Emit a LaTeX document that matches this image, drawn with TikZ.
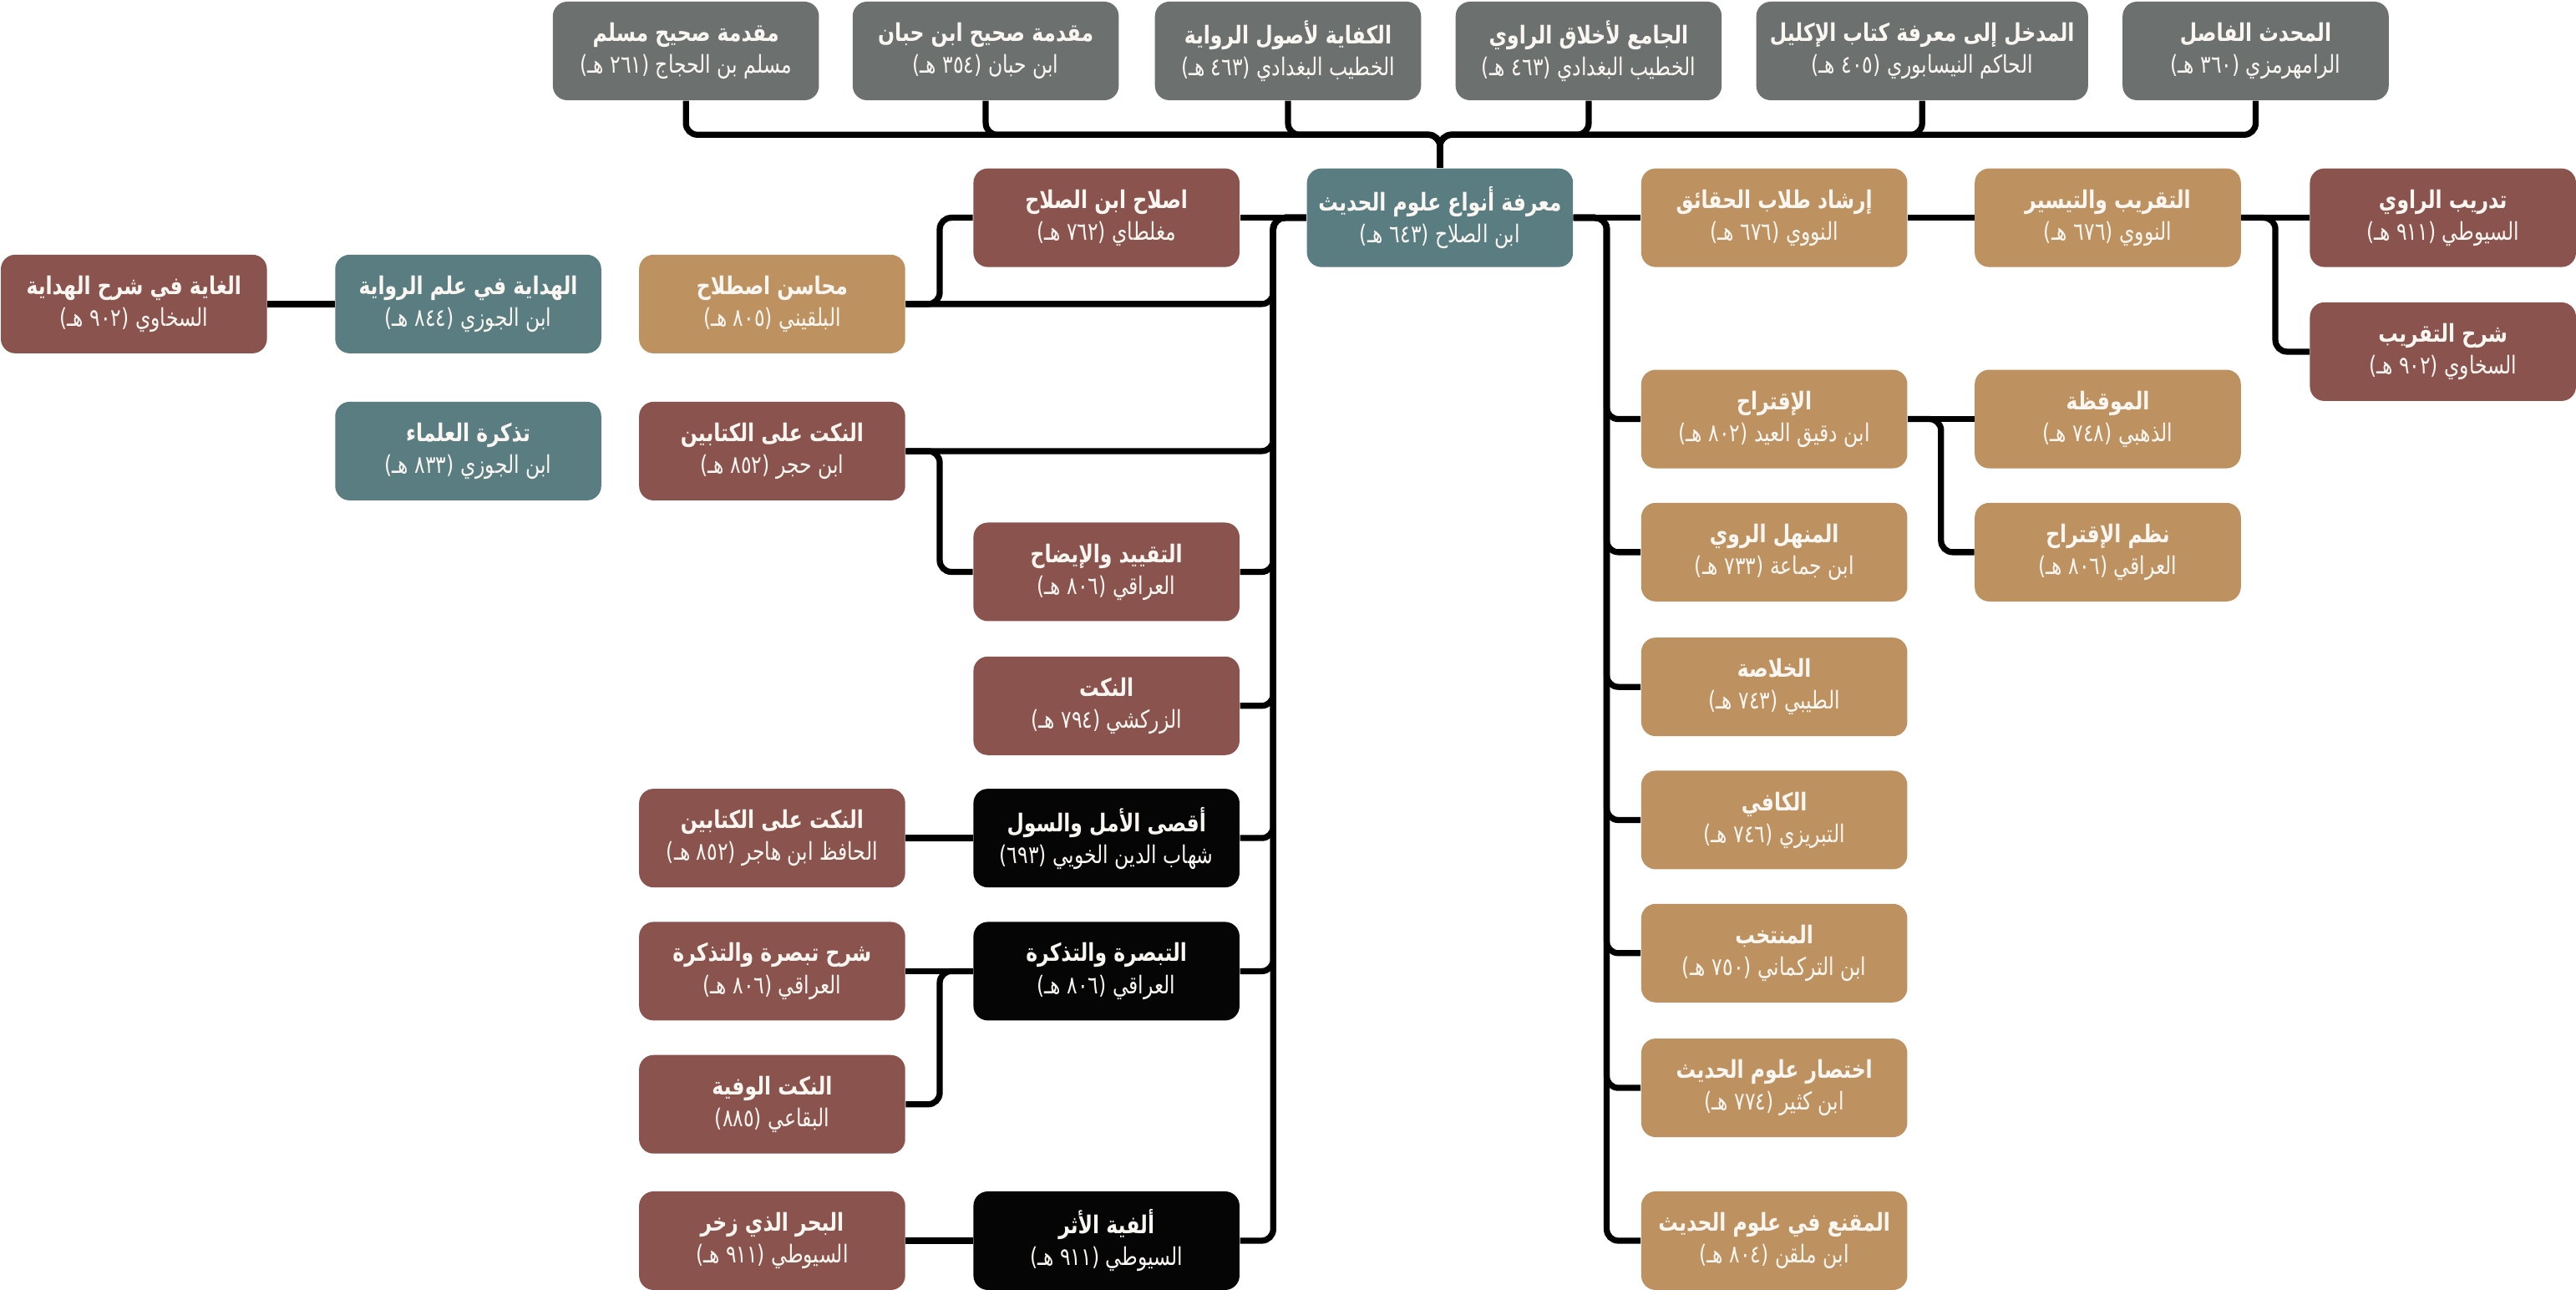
\documentclass[tikz,border=0pt]{standalone}
\usepackage{fontspec}
\newfontfamily\arfont[Script=Arabic,FakeStretch=0.8]{DejaVu Sans}
\TeXXeTstate=1
\usepackage{xcolor}
\definecolor{topgrey}{HTML}{6C7170}
\definecolor{teal}{HTML}{5A7D82}
\definecolor{brick}{HTML}{8B534D}
\definecolor{tan}{HTML}{BD9160}
\definecolor{ink}{HTML}{050505}
\definecolor{paper}{HTML}{FAF7F2}
\usepackage{tikz}
\newcommand{\ttl}{\bfseries}

\begin{document}
\begin{tikzpicture}[x=0.02cm,y=-0.02cm,
    bookbox/.style={rectangle,rounded corners=5pt,minimum width=3.24cm,minimum height=1.2cm,
      inner sep=1pt,align=center,text=paper,font=\arfont\fontsize{8.5}{11}\selectfont},
    link/.style={line width=2.1pt,rounded corners=4pt}]
  \useasboundingbox (0,0) rectangle (1568,785);

  % top row
  \node[bookbox,fill=topgrey](muslim) at (417.5,31) {{\ttl\beginR مقدمة صحيح مسلم\endR}\\\beginR مسلم بن الحجاج (٢٦١ هـ)\endR};
  \node[bookbox,fill=topgrey](hibban) at (600,31) {{\ttl\beginR مقدمة صحيح ابن حبان\endR}\\\beginR ابن حبان (٣٥٤ هـ)\endR};
  \node[bookbox,fill=topgrey](kifaya) at (784,31) {{\ttl\beginR الكفاية لأصول الرواية\endR}\\\beginR الخطيب البغدادي (٤٦٣ هـ)\endR};
  \node[bookbox,fill=topgrey](jami) at (967,31) {{\ttl\beginR الجامع لأخلاق الراوي\endR}\\\beginR الخطيب البغدادي (٤٦٣ هـ)\endR};
  \node[bookbox,fill=topgrey,minimum width=4.04cm](madkhal) at (1170,31) {{\ttl\beginR المدخل إلى معرفة كتاب الإكليل\endR}\\\beginR الحاكم النيسابوري (٤٠٥ هـ)\endR};
  \node[bookbox,fill=topgrey](muhaddith) at (1373,31) {{\ttl\beginR المحدث الفاصل\endR}\\\beginR الرامهرمزي (٣٦٠ هـ)\endR};

  % second row
  \node[bookbox,fill=brick](islah) at (673.5,132.5) {{\ttl\beginR اصلاح ابن الصلاح\endR}\\\beginR مغلطاي (٧٦٢ هـ)\endR};
  \node[bookbox,fill=teal](root) at (876.5,132.5) {{\ttl\beginR معرفة أنواع علوم الحديث\endR}\\\beginR ابن الصلاح (٦٤٣ هـ)\endR};
  \node[bookbox,fill=tan](irshad) at (1080,132.5) {{\ttl\beginR إرشاد طلاب الحقائق\endR}\\\beginR النووي (٦٧٦ هـ)\endR};
  \node[bookbox,fill=tan](taqrib) at (1283,132.5) {{\ttl\beginR التقريب والتيسير\endR}\\\beginR النووي (٦٧٦ هـ)\endR};
  \node[bookbox,fill=brick](tadrib) at (1487,132.5) {{\ttl\beginR تدريب الراوي\endR}\\\beginR السيوطي (٩١١ هـ)\endR};

  % left side
  \node[bookbox,fill=brick](ghaya) at (81.5,185) {{\ttl\beginR الغاية في شرح الهداية\endR}\\\beginR السخاوي (٩٠٢ هـ)\endR};
  \node[bookbox,fill=teal](hidaya) at (285,185) {{\ttl\beginR الهداية في علم الرواية\endR}\\\beginR ابن الجوزي (٨٤٤ هـ)\endR};
  \node[bookbox,fill=tan](mahasin) at (470,185) {{\ttl\beginR محاسن اصطلاح\endR}\\\beginR البلقيني (٨٠٥ هـ)\endR};
  \node[bookbox,fill=teal](tadhkira) at (285,274.5) {{\ttl\beginR تذكرة العلماء\endR}\\\beginR ابن الجوزي (٨٣٣ هـ)\endR};
  \node[bookbox,fill=brick](nukatA) at (470,274.5) {{\ttl\beginR النكت على الكتابين\endR}\\\beginR ابن حجر (٨٥٢ هـ)\endR};
  \node[bookbox,fill=brick](taqyid) at (673.5,348) {{\ttl\beginR التقييد والإيضاح\endR}\\\beginR العراقي (٨٠٦ هـ)\endR};
  \node[bookbox,fill=brick](nukatZ) at (673.5,429.5) {{\ttl\beginR النكت\endR}\\\beginR الزركشي (٧٩٤ هـ)\endR};
  \node[bookbox,fill=ink](aqsa) at (673.5,510) {{\ttl\beginR أقصى الأمل والسول\endR}\\\beginR شهاب الدين الخويي (٦٩٣)\endR};
  \node[bookbox,fill=brick](nukatB) at (470,510) {{\ttl\beginR النكت على الكتابين\endR}\\\beginR الحافظ ابن هاجر (٨٥٢ هـ)\endR};
  \node[bookbox,fill=ink](tabsira) at (673.5,591) {{\ttl\beginR التبصرة والتذكرة\endR}\\\beginR العراقي (٨٠٦ هـ)\endR};
  \node[bookbox,fill=brick](sharhT) at (470,591) {{\ttl\beginR شرح تبصرة والتذكرة\endR}\\\beginR العراقي (٨٠٦ هـ)\endR};
  \node[bookbox,fill=brick](wafiya) at (470,672) {{\ttl\beginR النكت الوفية\endR}\\\beginR البقاعي (٨٨٥)\endR};
  \node[bookbox,fill=ink](alfiya) at (673.5,755) {{\ttl\beginR ألفية الأثر\endR}\\\beginR السيوطي (٩١١ هـ)\endR};
  \node[bookbox,fill=brick](bahr) at (470,755) {{\ttl\beginR البحر الذي زخر\endR}\\\beginR السيوطي (٩١١ هـ)\endR};

  % right side
  \node[bookbox,fill=brick](sharhQ) at (1487,214) {{\ttl\beginR شرح التقريب\endR}\\\beginR السخاوي (٩٠٢ هـ)\endR};
  \node[bookbox,fill=tan](iqtirah) at (1080,255) {{\ttl\beginR الإقتراح\endR}\\\beginR ابن دقيق العيد (٨٠٢ هـ)\endR};
  \node[bookbox,fill=tan](muqiza) at (1283,255) {{\ttl\beginR الموقظة\endR}\\\beginR الذهبي (٧٤٨ هـ)\endR};
  \node[bookbox,fill=tan](nazm) at (1283,336) {{\ttl\beginR نظم الإقتراح\endR}\\\beginR العراقي (٨٠٦ هـ)\endR};
  \node[bookbox,fill=tan](manhal) at (1080,336) {{\ttl\beginR المنهل الروي\endR}\\\beginR ابن جماعة (٧٣٣ هـ)\endR};
  \node[bookbox,fill=tan](khulasa) at (1080,418) {{\ttl\beginR الخلاصة\endR}\\\beginR الطيبي (٧٤٣ هـ)\endR};
  \node[bookbox,fill=tan](kafi) at (1080,499) {{\ttl\beginR الكافي\endR}\\\beginR التبريزي (٧٤٦ هـ)\endR};
  \node[bookbox,fill=tan](muntakhab) at (1080,580) {{\ttl\beginR المنتخب\endR}\\\beginR ابن التركماني (٧٥٠ هـ)\endR};
  \node[bookbox,fill=tan](ikhtisar) at (1080,662) {{\ttl\beginR اختصار علوم الحديث\endR}\\\beginR ابن كثير (٧٧٤ هـ)\endR};
  \node[bookbox,fill=tan](muqni) at (1080,755) {{\ttl\beginR المقنع في علوم الحديث\endR}\\\beginR ابن ملقن (٨٠٤ هـ)\endR};

  \coordinate(bus) at (876.5,82);
  \coordinate(ltrunk) at (775,0);
  \coordinate(rtrunk) at (978,0);
  \coordinate(lmid) at (572,0);
  \coordinate(qmid) at (1385,0);
  \coordinate(imid) at (1181.5,0);

  \foreach \t in {muslim,hibban,kifaya,jami,madkhal,muhaddith}
    \draw[link] (\t.south) |- (bus) -- (root.north);
  \foreach \c in {mahasin,nukatA,taqyid,nukatZ,aqsa,tabsira,alfiya}
    \draw[link] (root.west) -| (ltrunk |- \c.east) -- (\c.east);
  \foreach \c in {iqtirah,manhal,khulasa,kafi,muntakhab,ikhtisar,muqni}
    \draw[link] (root.east) -| (rtrunk |- \c.west) -- (\c.west);

  \draw[link] (root.west) -- (islah.east);
  \draw[link] (root.east) -- (irshad.west);
  \draw[link] (irshad.east) -- (taqrib.west);
  \draw[link] (taqrib.east) -- (tadrib.west);
  \draw[link] (taqrib.east) -| (qmid |- sharhQ.west) -- (sharhQ.west);
  \draw[link] (iqtirah.east) -- (muqiza.west);
  \draw[link] (iqtirah.east) -| (imid |- nazm.west) -- (nazm.west);
  \draw[link] (ghaya.east) -- (hidaya.west);
  \draw[link] (islah.west) -| (lmid |- mahasin.east) -- (mahasin.east);
  \draw[link] (nukatA.east) -| (lmid |- taqyid.west) -- (taqyid.west);
  \draw[link] (nukatB.east) -- (aqsa.west);
  \draw[link] (sharhT.east) -- (tabsira.west);
  \draw[link] (tabsira.west) -| (lmid |- wafiya.east) -- (wafiya.east);
  \draw[link] (bahr.east) -- (alfiya.west);

\end{tikzpicture}
\end{document}
